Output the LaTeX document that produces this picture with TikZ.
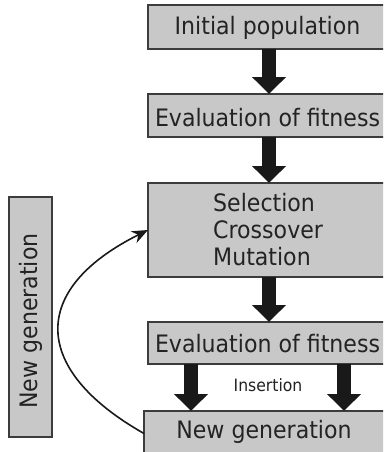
\documentclass[tikz,border=0pt]{standalone}
\usepackage{fontspec}
\setmainfont{DejaVu Sans}[FakeStretch=0.92]
\usetikzlibrary{arrows.meta}
\definecolor{boxfill}{RGB}{200,200,200}
\definecolor{boxline}{RGB}{60,60,60}
\definecolor{ink}{RGB}{35,35,35}
\definecolor{arrowink}{RGB}{25,25,25}
\tikzset{
  box/.style={draw=boxline, fill=boxfill, line width=1.3pt, inner sep=0pt, outer sep=0pt},
  txt/.style={inner sep=0pt, text=ink, font=\fontsize{24}{28}\selectfont},
  small/.style={inner sep=0pt, text=ink, font=\fontsize{17}{20}\selectfont},
  blk/.style={draw=arrowink, line width=14pt, -{Triangle[length=17pt,width=33pt]}},
  loopline/.style={draw=arrowink, line width=1.6pt, -{Stealth[length=16pt,width=13pt]}}
}
\begin{document}
\begin{tikzpicture}[x=1pt,y=-1pt]
\useasboundingbox (0,0) rectangle (383,452);
\clip (0,0) rectangle (383,452);
\fill[white] (0,0) rectangle (383,452);
% boxes
\node[box, minimum width=242pt, minimum height=44pt] (b1) at (269,27) {};
\node[box, minimum width=242pt, minimum height=43pt] (b2) at (269,115.5) {};
\node[box, minimum width=242pt, minimum height=94pt] (b3) at (269,230) {};
\node[box, minimum width=242pt, minimum height=42pt] (b4) at (269,343) {};
\node[box, minimum width=246pt, minimum height=59pt] (b5) at (267,440.5) {};
\node[box, minimum width=43pt, minimum height=240pt] (ng) at (30.5,317) {};
% texts
\node[txt, anchor=base] (t1) at (267.5,35) {Initial population};
\node[txt, anchor=base] (t2) at (267.5,126) {Evaluation of fitness};
\node[txt, anchor=base west] (t3a) at (213,211) {Selection};
\node[txt, anchor=base west] (t3b) at (213,238) {Crossover};
\node[txt, anchor=base west] (t3c) at (213,265) {Mutation};
\node[txt, anchor=base] (t4) at (267.5,352) {Evaluation of fitness};
\node[txt, anchor=base] (t5) at (264,438) {New generation};
\node[txt, anchor=base, rotate=90] (tng) at (37,321) {New generation};
\node[small, anchor=base] (ins) at (268,391) {Insertion};
% block arrows
\draw[blk] (b1.south) -- (b2.north);
\draw[blk] (b2.south) -- (b3.north);
\draw[blk] (b3.south) -- (b4.north);
\draw[blk] ([xshift=-78pt]b4.south) -- ([xshift=-78pt]b4.south |- b5.north);
\draw[blk] ([xshift=75pt]b4.south) -- ([xshift=75pt]b4.south |- b5.north);
% feedback curve
\draw[loopline] ([yshift=7pt]b5.west) .. controls (32,370) and (28,290) .. (b3.west);
\end{tikzpicture}
\end{document}
